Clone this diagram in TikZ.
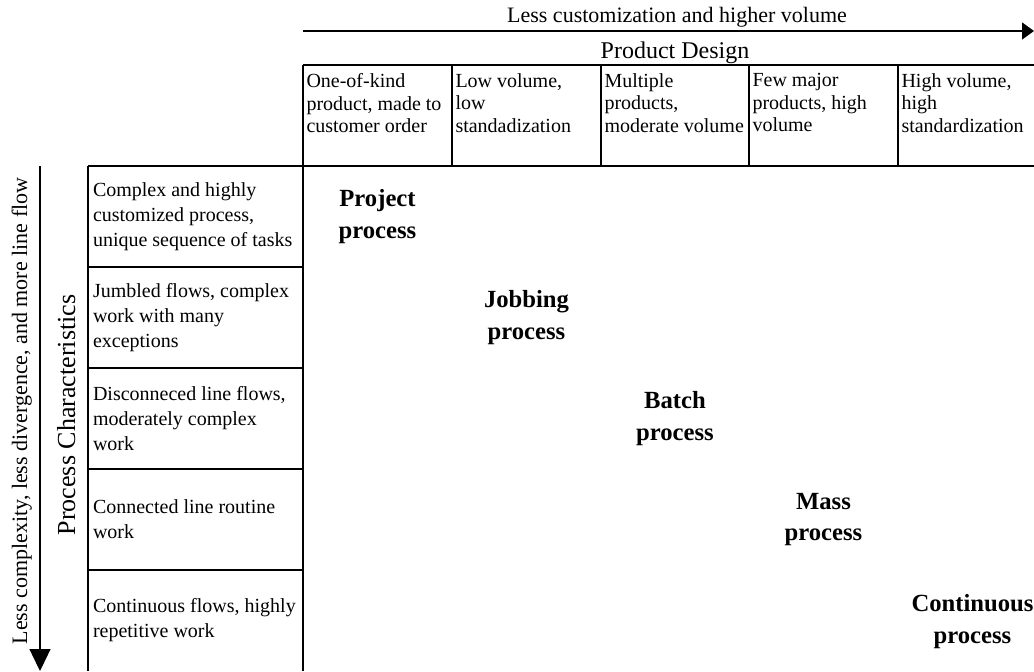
\documentclass[tikz,border=0pt]{standalone}
\usepackage{fontspec}
\setmainfont{Liberation Serif}
\usetikzlibrary{arrows.meta}
\tikzset{every picture/.style={line width=0.75pt}}
\begin{document}
\begin{tikzpicture}[x=0.75pt,y=0.75pt,yscale=-1,xscale=1,
  grid/.style={line width=1.5pt},
  flowarrow/.style={line width=1pt},
  headcell/.style={anchor=north west,inner sep=0.75pt,align=left,font=\fontsize{15}{16.9}\selectfont},
  rowcell/.style={anchor=west,inner sep=0.75pt,align=left,font=\fontsize{15}{18.75}\selectfont},
  procname/.style={inner sep=0.75pt,align=center,font=\fontsize{18.5}{23.5}\selectfont\bfseries}]
\useasboundingbox (0,0) rectangle (1034,671);

%Straight Lines [id:top header box]
\draw [grid]  (303,65) -- (1034,65) ;
\draw [grid]  (88,166) -- (1034,166) ;
\draw [grid]  (303,65) -- (303,671) ;
\draw [grid]  (452,65) -- (452,166) ;
\draw [grid]  (601,65) -- (601,166) ;
\draw [grid]  (749,65) -- (749,166) ;
\draw [grid]  (898,65) -- (898,166) ;
%Straight Lines [id:left row box]
\draw [grid]  (88,166) -- (88,671) ;
\draw [grid]  (88,267) -- (303,267) ;
\draw [grid]  (88,368) -- (303,368) ;
\draw [grid]  (88,469) -- (303,469) ;
\draw [grid]  (88,570) -- (303,570) ;

%Straight Lines [id:volume arrow]
\coordinate (tastart) at (303,31) ;
\coordinate (taend) at (1034,31) ;
\draw [flowarrow, -{Triangle[length=9pt,width=12.75pt]}]  (tastart) -- (taend) ;
%Straight Lines [id:flow arrow]
\coordinate (sastart) at (40,166) ;
\coordinate (saend) at (40,671) ;
\draw [flowarrow, -{Triangle[length=16.5pt,width=15.75pt]}]  (sastart) -- (saend) ;

% Text Node
\draw (677,22) node [anchor=base][inner sep=0.75pt] [font=\fontsize{16.5}{18}\selectfont] (topnote) {Less customization and higher volume};
% Text Node
\draw (675,58) node [anchor=base][inner sep=0.75pt] [font=\fontsize{18}{20}\selectfont] (pdesign) {Product Design};
% Text Node
\draw (27,411) node [anchor=base][inner sep=0.75pt] [rotate=90] [font=\fontsize{16.5}{18}\selectfont] (sidenote) {Less complexity, less divergence, and more line flow};
% Text Node
\draw (75,415) node [anchor=base][inner sep=0.75pt] [rotate=90] [font=\fontsize{19.5}{21}\selectfont] (pchar) {Process Characteristics};

% Text Node
\draw (305,72) node [headcell] (hdr1) {One-of-kind\\product, made to\\customer order};
% Text Node
\draw (454,72) node [headcell] (hdr2) {Low volume,\\low\\standadization};
% Text Node
\draw (603,72) node [headcell] (hdr3) {Multiple\\products,\\moderate volume};
% Text Node
\draw (751,72) node [headcell] (hdr4) {Few major\\products, high\\volume};
% Text Node
\draw (900,72) node [headcell] (hdr5) {High volume,\\high\\standardization};

% Text Node
\draw (91.5,216.5) node [rowcell] (row1) {Complex and highly\\customized process,\\unique sequence of tasks};
% Text Node
\draw (91.5,317.5) node [rowcell] (row2) {Jumbled flows, complex\\work with many\\exceptions};
% Text Node
\draw (91.5,418.5) node [rowcell] (row3) {Disconneced line flows,\\moderately complex\\work};
% Text Node
\draw (91.5,519.5) node [rowcell] (row4) {Connected line routine\\work};
% Text Node
\draw (91.5,620.5) node [rowcell] (row5) {Continuous flows, highly\\repetitive work};

% Text Node
\draw (377.5,216.5) node [procname] (proj) {Project\\process};
% Text Node
\draw (526.5,317.5) node [procname] (job) {Jobbing\\process};
% Text Node
\draw (675,418.5) node [procname] (batch) {Batch\\process};
% Text Node
\draw (823.5,519.5) node [procname] (mass) {Mass\\process};
% Text Node
\draw (972.5,621.5) node [procname] (cont) {Continuous\\process};

\end{tikzpicture}
\end{document}
